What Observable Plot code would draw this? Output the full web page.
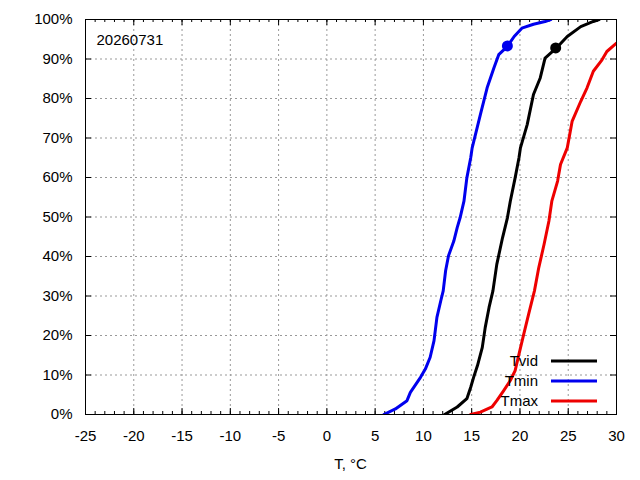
<!DOCTYPE html>
<html>
<head>
<meta charset="utf-8">
<script src="https://cdn.jsdelivr.net/npm/d3@7"></script>
<script src="https://cdn.jsdelivr.net/npm/@observablehq/plot@0.6"></script>
<style>
  html, body { margin: 0; padding: 0; background: #fff; }
  #chart svg { display: block; }
</style>
</head>
<body>
<div id="chart"></div>
<script>
// ---- data ----
const dateLabel = "20260731";
const xLabel = "T, °C";
const seriesNames = ["Tvid", "Tmin", "Tmax"];
const seriesColors = ["#000000", "#0000ee", "#ee0000"];

const tvidT = [12.2, 13.5, 14.5, 14.9, 15.2, 15.6, 16.1, 16.4, 16.8, 17.2, 17.6, 18.2, 18.7, 19.0, 19.5, 19.9, 20.05, 20.75, 21.4, 22.1, 22.6, 23.7, 24.9, 26.3, 27.6, 28.2];
const tvidP = [0, 1.9, 4, 6.9, 9.4, 12.4, 17, 22, 27.1, 31.3, 38, 44.8, 49.8, 54, 59.9, 65, 67.5, 73.4, 81, 85.2, 90.2, 92.6, 95.7, 98.2, 99.5, 100];

const tminT = [5.9, 7.1, 8.3, 8.65, 9.7, 10.2, 10.7, 11.1, 11.4, 11.8, 12.05, 12.3, 12.6, 13.15, 13.5, 13.8, 14.2, 14.5, 14.9, 15.05, 15.9, 16.6, 17.3, 17.8, 18.7, 19.4, 20.2, 21.4, 22.6, 23.2];
const tminP = [0, 1.4, 3.5, 5.6, 9.4, 11.5, 14.5, 18.7, 24.6, 28.8, 31.3, 36.4, 40.2, 43.9, 47.3, 49.8, 54, 59.9, 65, 67.5, 75.9, 82.7, 87.7, 91.1, 93.2, 95.7, 97.8, 98.8, 99.5, 100];

const tmaxT = [14.9, 15.9, 17.1, 17.6, 18.3, 19.0, 19.5, 19.9, 20.4, 20.9, 21.5, 21.95, 22.5, 23.0, 23.3, 23.9, 24.2, 24.9, 25.4, 26.3, 26.95, 27.6, 28.5, 29.0, 30.0];
const tmaxP = [0, 0.6, 1.9, 3.5, 6, 8.6, 11.1, 15.3, 20.4, 25.4, 31.3, 37.2, 43.1, 49, 54, 59.1, 63.3, 67.5, 74.2, 79.3, 82.7, 86.9, 89.8, 91.9, 94];

const markerSeries = ["Tvid", "Tmin"];
const markerT = [23.7, 18.7];
const markerP = [92.8, 93.3];

const xMajorTicks = [-25, -20, -15, -10, -5, 0, 5, 10, 15, 20, 25, 30];
const xMinorTicks = d3.range(-25, 31, 1);
const yTicks = [0, 10, 20, 30, 40, 50, 60, 70, 80, 90, 100];

// ---- build tables ----
function rows(name, T, P) { return T.map((t, i) => ({series: name, t, p: P[i]})); }
const lineData = [
  ...rows("Tmin", tminT, tminP),
  ...rows("Tvid", tvidT, tvidP),
  ...rows("Tmax", tmaxT, tmaxP)
];
const markers = markerSeries.map((s, i) => ({series: s, t: markerT[i], p: markerP[i]}));
const colorOf = s => seriesColors[seriesNames.indexOf(s)];

const W = 640, H = 480, mL = 85, mR = 24, mT = 19, mB = 66;
const fw = W - mL - mR, fh = H - mT - mB;

const gridX = xMajorTicks.filter(d => d > -25 && d < 30);
const gridY = yTicks.filter(d => d > 0 && d < 100);

const plot = Plot.plot({
  width: W, height: H,
  marginLeft: mL, marginRight: mR, marginTop: mT, marginBottom: mB,
  style: {fontFamily: "'Liberation Sans', Arial, sans-serif", fontSize: "15px", background: "#fff", color: "#000", overflow: "visible"},
  x: {domain: [-25, 30]},
  y: {domain: [0, 100]},
  marks: [
    Plot.ruleX(gridX, {x: d => d, stroke: "#999", strokeDasharray: "2,3", strokeWidth: 1}),
    Plot.ruleY(gridY, {y: d => d, stroke: "#999", strokeDasharray: "2,3", strokeWidth: 1}),
    // minor ticks inward (bottom / top)
    Plot.tickX(xMinorTicks, {x: d => d, insetTop: fh - 3, stroke: "#000"}),
    Plot.tickX(xMinorTicks, {x: d => d, insetBottom: fh - 3, stroke: "#000"}),
    // major ticks inward
    Plot.tickX(xMajorTicks, {x: d => d, insetTop: fh - 6, stroke: "#000"}),
    Plot.tickX(xMajorTicks, {x: d => d, insetBottom: fh - 6, stroke: "#000"}),
    Plot.tickY(yTicks, {y: d => d, insetRight: fw - 6, stroke: "#000"}),
    Plot.tickY(yTicks, {y: d => d, insetLeft: fw - 6, stroke: "#000"}),
    Plot.axisX(xMajorTicks, {tickSize: 0, tickPadding: 16, label: null, tickFormat: d => String(d)}),
    Plot.axisY(yTicks, {tickSize: 0, tickPadding: 13, label: null, tickFormat: d => d + "%"}),
    Plot.lineY(lineData, {x: "t", y: "p", z: "series", stroke: d => colorOf(d.series), strokeWidth: 3, curve: "linear", clip: true}),
    Plot.dot(markers, {x: "t", y: "p", fill: d => colorOf(d.series), r: 5.5, stroke: "none"}),
    Plot.text([dateLabel], {frameAnchor: "top-left", dx: 11, dy: 15, text: d => d, textAnchor: "start", fontSize: 15}),
    Plot.frame({stroke: "#000", strokeWidth: 1})
  ]
});

// axis title and legend (gnuplot-style key inside the plot, bottom right)
const svg = d3.select(plot);
svg.append("text")
  .attr("x", mL + fw / 2).attr("y", 469)
  .attr("text-anchor", "middle")
  .attr("font-size", 15)
  .text(xLabel);

const legendRows = [{y: 361}, {y: 381}, {y: 401}];
seriesNames.forEach((name, i) => {
  const y = legendRows[i].y;
  svg.append("line")
    .attr("x1", 551).attr("x2", 597).attr("y1", y).attr("y2", y)
    .attr("stroke", seriesColors[i]).attr("stroke-width", 3);
  svg.append("text")
    .attr("x", 538).attr("y", y).attr("dy", "0.35em")
    .attr("text-anchor", "end").attr("font-size", 15)
    .text(name);
});

document.getElementById("chart").appendChild(plot);
</script>
</body>
</html>
